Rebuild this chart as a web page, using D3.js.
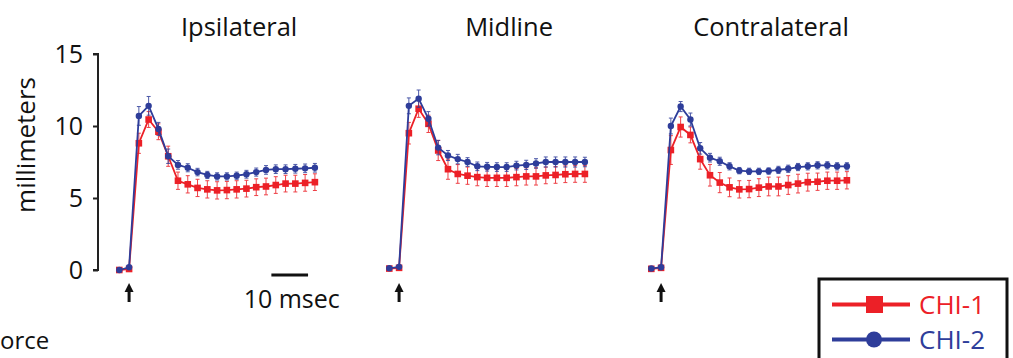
<!DOCTYPE html>
<html>
<head>
<meta charset="utf-8">
<script src="https://cdn.jsdelivr.net/npm/d3@7"></script>
<style>
  body { margin: 0; background: #fff; }
  svg { display: block; }
  text { font-family: "Open Sans", "Noto Sans", sans-serif; fill: #111; }
</style>
</head>
<body>
<svg id="chart" width="1013" height="358"></svg>
<script>
// ── data (millimeters, one sample per frame, 21 frames) ──────────────
const panels = ["Ipsilateral", "Midline", "Contralateral"];
const seriesNames = ["CHI-1", "CHI-2"];
const yTicks = [0, 5, 10, 15];
const msPerFrame = 8 / 3;          // frame spacing, 10 msec bar = 3.75 frames

const ipsiChi1 = [0.0, 0.07, 8.8, 10.45, 9.6, 7.9, 6.2, 5.95, 5.7, 5.6, 5.53, 5.55, 5.6, 5.65, 5.75, 5.8, 5.9, 6.0, 6.0, 6.05, 6.1];
const ipsiChi2 = [0.0, 0.19, 10.7, 11.4, 9.8, 7.9, 7.3, 7.1, 6.8, 6.6, 6.5, 6.5, 6.55, 6.65, 6.8, 6.95, 7.0, 7.0, 7.03, 7.06, 7.1];
const midChi1  = [0.1, 0.15, 9.5, 11.2, 10.15, 8.3, 7.0, 6.67, 6.55, 6.45, 6.4, 6.4, 6.4, 6.45, 6.5, 6.5, 6.57, 6.6, 6.65, 6.67, 6.67];
const midChi2  = [0.12, 0.22, 11.4, 11.9, 10.5, 8.5, 7.95, 7.7, 7.5, 7.2, 7.17, 7.15, 7.15, 7.25, 7.3, 7.4, 7.5, 7.5, 7.5, 7.5, 7.5];
const contChi1 = [0.08, 0.15, 8.33, 9.93, 9.38, 7.7, 6.58, 6.07, 5.74, 5.6, 5.62, 5.72, 5.8, 5.8, 5.9, 6.0, 6.1, 6.13, 6.2, 6.2, 6.23];
const contChi2 = [0.1, 0.19, 10.0, 11.35, 10.45, 8.45, 7.8, 7.55, 7.2, 6.9, 6.85, 6.85, 6.87, 6.95, 7.03, 7.15, 7.2, 7.27, 7.27, 7.2, 7.2];

// standard errors
const ipsiErr1 = [0, 0, 0.7, 0.55, 0.55, 0.7, 0.6, 0.6, 0.6, 0.6, 0.6, 0.6, 0.6, 0.58, 0.58, 0.58, 0.58, 0.58, 0.58, 0.58, 0.58];
const ipsiErr2 = [0, 0, 0.65, 0.65, 0.45, 0.5, 0.3, 0.28, 0.26, 0.25, 0.25, 0.25, 0.25, 0.27, 0.28, 0.3, 0.3, 0.3, 0.3, 0.3, 0.3];
const midErr1  = [0, 0, 0.75, 0.6, 0.6, 0.7, 0.7, 0.65, 0.6, 0.6, 0.6, 0.6, 0.6, 0.6, 0.6, 0.6, 0.58, 0.58, 0.58, 0.58, 0.58];
const midErr2  = [0, 0, 0.55, 0.6, 0.5, 0.5, 0.35, 0.33, 0.3, 0.3, 0.3, 0.3, 0.3, 0.3, 0.32, 0.33, 0.35, 0.35, 0.35, 0.35, 0.33];
const contErr1 = [0, 0, 1.0, 0.7, 0.55, 0.7, 0.75, 0.7, 0.65, 0.6, 0.6, 0.62, 0.65, 0.65, 0.65, 0.65, 0.62, 0.6, 0.6, 0.6, 0.6];
const contErr2 = [0, 0, 0.55, 0.35, 0.45, 0.4, 0.3, 0.28, 0.25, 0.22, 0.22, 0.22, 0.22, 0.25, 0.25, 0.25, 0.25, 0.25, 0.25, 0.25, 0.25];

const panelData = [
  { name: panels[0], s1: ipsiChi1, s2: ipsiChi2, e1: ipsiErr1, e2: ipsiErr2, x0: 119.3 },
  { name: panels[1], s1: midChi1,  s2: midChi2,  e1: midErr1,  e2: midErr2,  x0: 389.3 },
  { name: panels[2], s1: contChi1, s2: contChi2, e1: contErr1, e2: contErr2, x0: 651.3 }
];

const RED = "#ec2027";
const BLUE = "#2e3d9a";
const step = 9.78;

const svg = d3.select("#chart");

const y = d3.scaleLinear().domain([0, 15]).range([270, 54]);

// ── y axis ──
const axisG = svg.append("g").attr("transform", "translate(98,0)");
axisG.call(d3.axisLeft(y).tickValues(yTicks).tickSize(5).tickPadding(10));
axisG.select(".domain").attr("d", `M-5,${y(15)}H0V${y(0)}H-5`).attr("stroke", "#222").attr("stroke-width", 2);
axisG.selectAll(".tick line").attr("stroke", "#222").attr("stroke-width", 2);
axisG.selectAll(".tick text")
  .attr("font-family", '"Open Sans", sans-serif')
  .attr("font-size", 25).attr("fill", "#111");

svg.append("text")
  .attr("transform", `translate(35,${(y(0) + y(15)) / 2 - 17}) rotate(-90)`)
  .attr("text-anchor", "middle")
  .attr("font-size", 26)
  .text("millimeters");

// ── panels ──
panelData.forEach(p => {
  const x = d3.scaleLinear().domain([0, 20]).range([p.x0, p.x0 + 20 * step]);
  const g = svg.append("g");

  g.append("text")
    .attr("x", x(10) + 22).attr("y", 36)
    .attr("text-anchor", "middle")
    .attr("font-size", 25.5)
    .text(p.name);

  const line = d3.line().x((d, i) => x(i)).y(d => y(d));

  const series = [
    { vals: p.s1, err: p.e1, color: RED, shape: "square" },
    { vals: p.s2, err: p.e2, color: BLUE, shape: "circle" }
  ];

  series.forEach(s => {
    const sg = g.append("g");
    // error bars
    const eb = sg.selectAll("g.err").data(s.vals.map((v, i) => ({ v, e: s.err[i], i })).filter(d => d.e > 0))
      .enter().append("g").attr("class", "err")
      .attr("stroke", s.color).attr("stroke-width", 1).attr("opacity", 0.85);
    eb.append("line")
      .attr("x1", d => x(d.i)).attr("x2", d => x(d.i))
      .attr("y1", d => y(d.v - d.e)).attr("y2", d => y(d.v + d.e));
    eb.append("line")
      .attr("x1", d => x(d.i) - 2).attr("x2", d => x(d.i) + 2)
      .attr("y1", d => y(d.v + d.e)).attr("y2", d => y(d.v + d.e));
    eb.append("line")
      .attr("x1", d => x(d.i) - 2).attr("x2", d => x(d.i) + 2)
      .attr("y1", d => y(d.v - d.e)).attr("y2", d => y(d.v - d.e));

    sg.append("path")
      .datum(s.vals)
      .attr("d", line)
      .attr("fill", "none")
      .attr("stroke", s.color)
      .attr("stroke-width", 1.8);

    if (s.shape === "square") {
      sg.selectAll("rect.mk").data(s.vals).enter().append("rect")
        .attr("class", "mk")
        .attr("x", (d, i) => x(i) - 3.3).attr("y", d => y(d) - 3.3)
        .attr("width", 6.6).attr("height", 6.6)
        .attr("fill", s.color);
    } else {
      sg.selectAll("circle.mk").data(s.vals).enter().append("circle")
        .attr("class", "mk")
        .attr("cx", (d, i) => x(i)).attr("cy", d => y(d))
        .attr("r", 3.2)
        .attr("fill", s.color);
    }
  });

  // stimulus arrow at frame 1
  const ax = x(1);
  g.append("line")
    .attr("x1", ax).attr("x2", ax).attr("y1", 292).attr("y2", 302)
    .attr("stroke", "#111").attr("stroke-width", 3);
  g.append("path")
    .attr("d", `M${ax - 4.5},${292}L${ax},${283}L${ax + 4.5},${292}Z`)
    .attr("fill", "#111");

  // scale bar on first panel only
  if (p === panelData[0]) {
    const xs = x(15.55);
    const xe = x(15.55 + 10 / msPerFrame);
    g.append("line")
      .attr("x1", xs).attr("x2", xe).attr("y1", 275).attr("y2", 275)
      .attr("stroke", "#111").attr("stroke-width", 3);
    g.append("text")
      .attr("x", (xs + xe) / 2 + 2).attr("y", 308)
      .attr("text-anchor", "middle")
      .attr("font-size", 25)
      .text("10 msec");
  }
});

// ── label fragment at lower left (the rest lies outside the frame) ──
svg.append("text").attr("x", 0).attr("y", 349).attr("font-size", 24).text("orce");

// ── legend ──
const lg = svg.append("g");
lg.append("rect")
  .attr("x", 819).attr("y", 279).attr("width", 188).attr("height", 100)
  .attr("fill", "#fff").attr("stroke", "#111").attr("stroke-width", 3);
const legendItems = [
  { name: seriesNames[0], color: RED, shape: "square", cy: 304.5 },
  { name: seriesNames[1], color: BLUE, shape: "circle", cy: 339.5 }
];
legendItems.forEach(d => {
  lg.append("line")
    .attr("x1", 832).attr("x2", 910).attr("y1", d.cy).attr("y2", d.cy)
    .attr("stroke", d.color).attr("stroke-width", 4);
  if (d.shape === "square") {
    lg.append("rect").attr("x", 866).attr("y", d.cy - 8.5).attr("width", 17).attr("height", 17).attr("fill", d.color);
  } else {
    lg.append("circle").attr("cx", 874).attr("cy", d.cy).attr("r", 8).attr("fill", d.color);
  }
  lg.append("text")
    .attr("x", 919).attr("y", d.cy + 9.5)
    .attr("font-family", '"Liberation Sans", Arial, sans-serif')
    .attr("font-size", 26)
    .style("fill", d.color)
    .text(d.name);
});
</script>
</body>
</html>
